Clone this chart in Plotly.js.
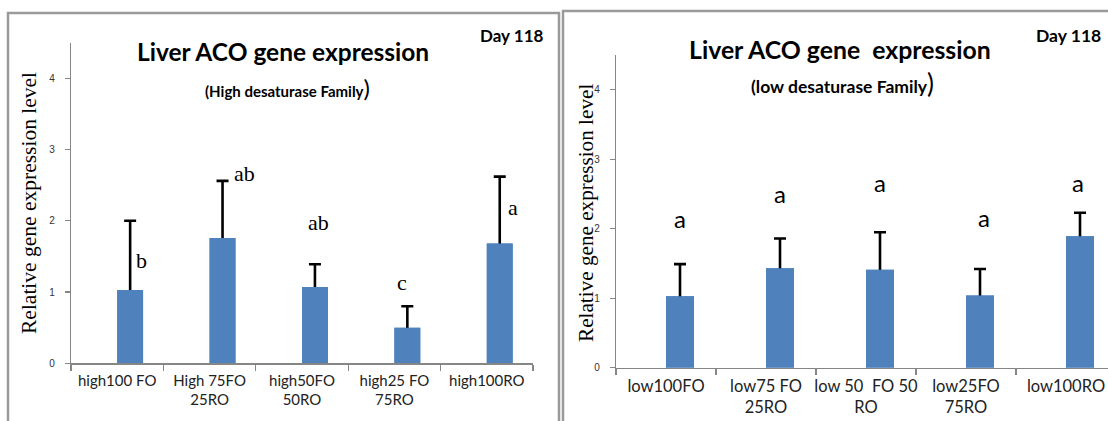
<!DOCTYPE html>
<html>
<head>
<meta charset="utf-8">
<script src="https://cdn.plot.ly/plotly-3.0.1.min.js"></script>
<style>html,body{margin:0;padding:0;background:#fff;}#chart{width:1108px;height:421px;}</style>
</head>
<body>
<div id="chart"></div>
<script>
// ---- data ----
const leftCategories = ["high100 FO", "High 75FO<br>25RO", "high50FO<br>50RO", "high25 FO<br>75RO", "high100RO"];
const leftMeans = [1.03, 1.76, 1.07, 0.50, 1.68];
const leftErrors = [0.97, 0.80, 0.32, 0.30, 0.94];
const leftLetters = ["b", "ab", "ab", "c", "a"];

const rightCategories = ["low100FO", "low75 FO<br>25RO", "low 50  FO 50<br>RO", "low25FO<br>75RO", "low100RO"];
const rightMeans = [1.03, 1.43, 1.41, 1.04, 1.89];
const rightErrors = [0.46, 0.43, 0.54, 0.38, 0.34];
const rightLetters = ["a", "a", "a", "a", "a"];

const yTickValues = [0, 1, 2, 3, 4];

// ---- layout helpers (positions only) ----
const W = 1108, H = 421;
const px = x => x / W;
const py = y => 1 - y / H;

const leftLetterPos = [[0.26, 1.45], [1.38, 2.67], [2.18, 1.98], [3.08, 1.14], [4.28, 2.18]];
const rightLetterPos = [[0.14, 2.15], [1.14, 2.51], [2.14, 2.66], [3.18, 2.16], [4.12, 2.66]];

const barColor = '#4F81BD';
const axisColor = '#868686';

function barPair(cats, means, errs, xa, ya) {
  const base = {
    type: 'bar', x: cats, y: means, xaxis: xa, yaxis: ya,
    offset: 0, width: 0.28,
    marker: {color: barColor, line: {width: 0}},
    hoverinfo: 'skip', showlegend: false
  };
  // the lower arm is hidden behind the covering bar drawn on top
  const withErr = Object.assign({}, base, {
    error_y: {type: 'data', symmetric: false, array: errs, arrayminus: means.map(v => v / 2),
              color: '#000', thickness: 2.6, width: 6}
  });
  return [withErr, base];
}

const traces = [
  ...barPair(leftCategories, leftMeans, leftErrors, 'x', 'y'),
  ...barPair(rightCategories, rightMeans, rightErrors, 'x2', 'y2')
];

function xAxis(domain, range, size) {
  return {
    domain: domain, range: range, type: 'category',
    showline: true, linecolor: axisColor, linewidth: 1.3,
    ticks: 'outside', tickson: 'boundaries', ticklen: 6, tickcolor: axisColor, tickwidth: 1.3,
    showgrid: false, zeroline: false, fixedrange: true, tickangle: 0,
    tickfont: {family: 'Lato, "Open Sans", sans-serif', size: size, color: '#222'},
    ticklabelstandoff: 3
  };
}
function yAxis(domain) {
  return {
    domain: domain, range: [0, 4.5],
    showline: true, linecolor: axisColor, linewidth: 1.3,
    ticks: 'outside', ticklen: 5, tickcolor: axisColor, tickwidth: 1.3,
    tickvals: yTickValues, ticktext: yTickValues.map(String),
    showgrid: false, zeroline: false, fixedrange: true,
    tickfont: {family: '"Liberation Sans", Arial, sans-serif', size: 10, color: '#333'},
    ticklabelstandoff: 8
  };
}

const annotations = [];
function paperText(text, x, y, font, extra) {
  annotations.push(Object.assign({
    xref: 'paper', yref: 'paper', x: px(x), y: py(y), text: text,
    showarrow: false, xanchor: 'center', yanchor: 'middle', font: font
  }, extra || {}));
}
const sans = 'Lato, "Open Sans", sans-serif';
const serif = '"Liberation Serif", "Times New Roman", serif';

paperText('<b>Liver ACO gene expression</b>', 283, 52, {family: sans, size: 24.5, color: '#000'});
paperText('<b>(High desaturase Family</b><span style="font-size:24px">)</span>', 287, 87, {family: sans, size: 15, color: '#000'});
paperText('<b>Day 118</b>', 511, 36, {family: sans, size: 17, color: '#000'});
paperText('Relative gene expression level', 29, 203, {family: serif, size: 21.5, color: '#000'}, {textangle: -90});

paperText('<b>Liver ACO gene\u00a0 expression</b>', 840, 50, {family: sans, size: 24.8, color: '#000'});
paperText('<b>(low desaturase Family</b><span style="font-size:26px">)</span>', 842, 83, {family: sans, size: 17.5, color: '#000'});
paperText('<b>Day 118</b>', 1068, 35, {family: sans, size: 17.5, color: '#000'});
paperText('Relative gene expression level', 586, 213, {family: serif, size: 21.2, color: '#000'}, {textangle: -90});

leftLetters.forEach((t, i) => annotations.push({
  xref: 'x', yref: 'y', x: leftLetterPos[i][0], y: leftLetterPos[i][1], text: t,
  showarrow: false, xanchor: 'center', yanchor: 'middle',
  font: {family: serif, size: 22, color: '#000'}
}));
rightLetters.forEach((t, i) => annotations.push({
  xref: 'x2', yref: 'y2', x: rightLetterPos[i][0], y: rightLetterPos[i][1], text: t,
  showarrow: false, xanchor: 'center', yanchor: 'middle',
  font: {family: sans, size: 24, color: '#000'}
}));

const frameLine = {color: '#9a9a9a', width: 2.5};
const shapes = [
  {type: 'rect', xref: 'paper', yref: 'paper', x0: px(8), x1: px(559), y0: -0.1, y1: py(13), line: frameLine},
  {type: 'rect', xref: 'paper', yref: 'paper', x0: px(563), x1: 1.1, y0: -0.1, y1: py(11), line: frameLine}
];

const layout = {
  width: W, height: H,
  margin: {l: 0, r: 0, t: 0, b: 0},
  paper_bgcolor: '#fff', plot_bgcolor: 'rgba(0,0,0,0)',
  barmode: 'overlay',
  showlegend: false,
  xaxis: xAxis([px(71), px(533)], [-0.5, 4.5], 15),
  yaxis: Object.assign(yAxis([py(363.3), py(42.7)]), {anchor: 'x'}),
  xaxis2: Object.assign(xAxis([px(616), 1], [-0.5, (W - 616) / 100 - 0.5], 16.5), {anchor: 'y2'}),
  yaxis2: Object.assign(yAxis([py(367.7), py(55)]), {anchor: 'x2'}),
  annotations: annotations,
  shapes: shapes
};

Plotly.newPlot('chart', traces, layout, {staticPlot: true, displayModeBar: false});
</script>
</body>
</html>
